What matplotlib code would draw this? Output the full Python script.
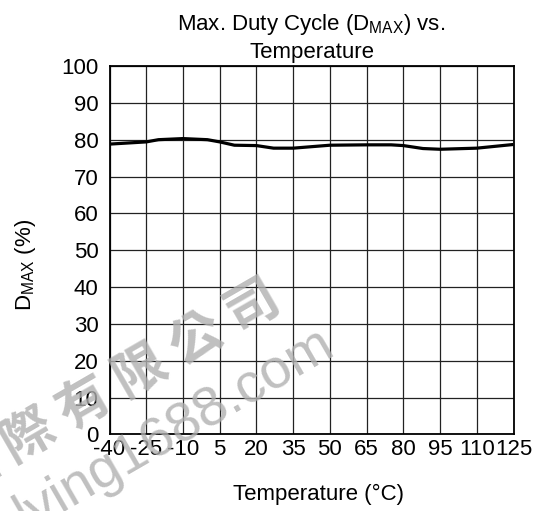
import matplotlib
matplotlib.use("Agg")
import matplotlib.pyplot as plt

# Max duty cycle vs temperature
temps = [-40, -25, -20, -10, 0, 5, 11, 20, 27, 35, 50, 65, 75, 80, 88, 95, 110, 125]
dmax = [78.8, 79.4, 80.0, 80.3, 80.0, 79.4, 78.5, 78.4, 77.7, 77.7,
        78.5, 78.6, 78.6, 78.4, 77.6, 77.4, 77.7, 78.7]

x_ticks = [-40, -25, -10, 5, 20, 35, 50, 65, 80, 95, 110, 125]
y_ticks = [0, 10, 20, 30, 40, 50, 60, 70, 80, 90, 100]

plt.rcParams["font.family"] = ["Liberation Sans", "DejaVu Sans"]
plt.rcParams["mathtext.fontset"] = "custom"
plt.rcParams["mathtext.rm"] = "Liberation Sans"
plt.rcParams["axes.unicode_minus"] = False

fig = plt.figure(figsize=(5.47, 5.11), dpi=100)
ax = fig.add_axes([0.2002, 0.150, 0.7386, 0.7208])

ax.plot(temps, dmax, color="black", linewidth=2.3, solid_capstyle="butt", zorder=3)

ax.set_xlim(-40, 125)
ax.set_ylim(0, 100)
ax.set_xticks(x_ticks)
ax.set_yticks(y_ticks)
ax.tick_params(length=0, labelsize=16)
ax.tick_params(axis="x", pad=3.5)
ax.tick_params(axis="y", pad=8)
ax.grid(True, color="#222222", linewidth=0.9)
for s in ax.spines.values():
    s.set_linewidth(1.3)
    s.set_color("black")

ax.set_title("Max. Duty Cycle (D$_{\\mathrm{MAX}}$) vs.\nTemperature",
             fontsize=16, pad=6, linespacing=1.3)
ax.set_xlabel("Temperature (°C)", fontsize=16)
ax.xaxis.set_label_coords(0.517, -0.135)
ax.set_ylabel("D$_{\\mathrm{MAX}}$ (%)", fontsize=16)
ax.yaxis.set_label_coords(-0.178, 0.46)

# watermark
wm = dict(color="#b0b0b0", alpha=0.8, zorder=10, ha="center", va="center",
          rotation_mode="anchor")
fig.text(113 / 547, 1 - 388 / 511, "國 際 有 限 公 司", fontsize=38, rotation=30,
         family=["Noto Sans CJK TC", "DejaVu Sans"], fontweight="bold", **wm)
fig.text(174 / 547, 1 - 430 / 511, "lving1688.com", fontsize=40, rotation=30,
         family=["Liberation Sans", "DejaVu Sans"], **wm)

fig.savefig("out.png", dpi=100)
